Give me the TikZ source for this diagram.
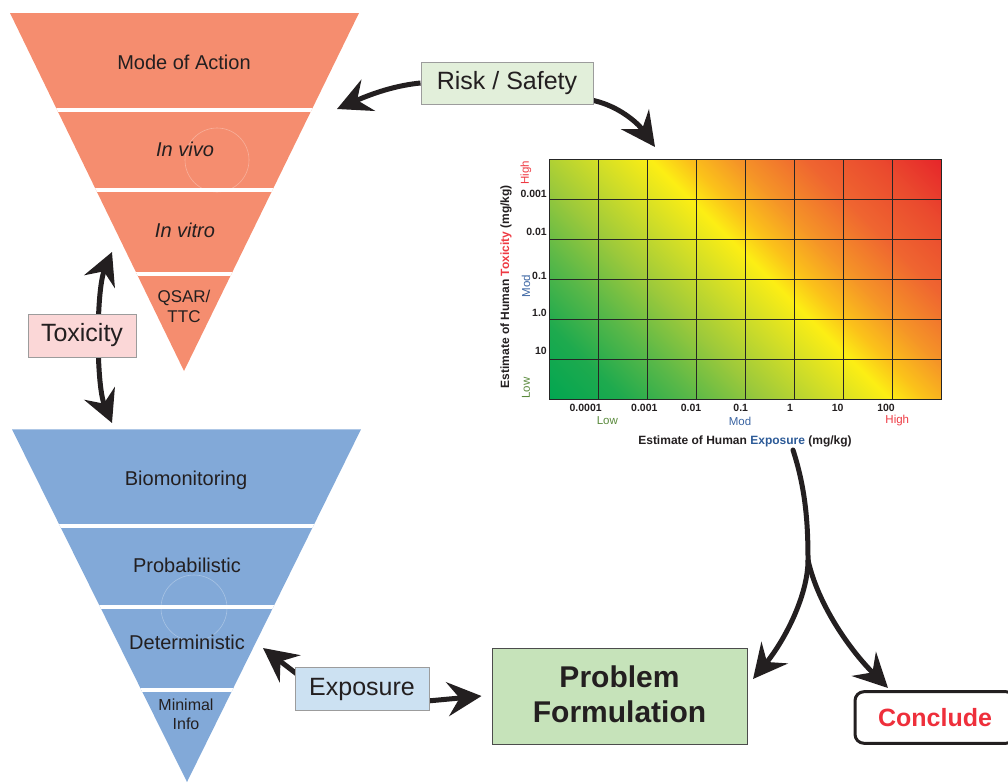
\documentclass[tikz,border=0pt]{standalone}
\usepackage{fontspec}
\setmainfont{Liberation Sans}
\usetikzlibrary{arrows.meta,calc}
\pgfdeclarelayer{bg}
\pgfsetlayers{bg,main}

\definecolor{triO}{HTML}{F58D6F}
\definecolor{triB}{HTML}{82A9D8}
\definecolor{ink}{HTML}{231F20}
\definecolor{riskfill}{HTML}{E2EFDA}
\definecolor{toxfill}{HTML}{FBD7D7}
\definecolor{expofill}{HTML}{CCE1F2}
\definecolor{probfill}{HTML}{C6E3BA}
\definecolor{tagedge}{HTML}{9C9C9C}
\definecolor{hmgreen}{HTML}{5A8A3C}
\definecolor{hmblue}{HTML}{3A64A2}
\definecolor{hmred}{HTML}{EE3A43}
\definecolor{expblue}{HTML}{2C5A97}
\definecolor{conred}{HTML}{EE2F3B}
\definecolor{hA}{HTML}{00A651}
\definecolor{hB}{HTML}{1EAA4E}
\definecolor{hC}{HTML}{5AB848}
\definecolor{hD}{HTML}{9CC93B}
\definecolor{hE}{HTML}{CDDC29}
\definecolor{hF}{HTML}{FCEE14}
\definecolor{hG}{HTML}{FBC21A}
\definecolor{hH}{HTML}{F59527}
\definecolor{hI}{HTML}{EF6530}
\definecolor{hJ}{HTML}{EA4A2E}
\definecolor{hK}{HTML}{E6232A}
\pgfdeclarehorizontalshading{heat}{100bp}{color(0bp)=(hA); color(25.5bp)=(hA); color(31bp)=(hB); color(36bp)=(hC); color(41bp)=(hD); color(45.5bp)=(hE); color(50bp)=(hF); color(52.5bp)=(hG); color(56bp)=(hH); color(61bp)=(hI); color(66bp)=(hJ); color(71bp)=(hK); color(100bp)=(hK)}

\begin{document}
\begin{tikzpicture}[x=1pt,y=-1pt,
  lbl/.style={text=ink, inner sep=0pt, font=\fontsize{20}{24}\selectfont},
  tagbox/.style={draw=tagedge, line width=1pt, text=ink, inner sep=0pt, font=\fontsize{25}{30}\selectfont},
  conn/.style={draw=ink, line width=5pt, -{Stealth[length=34pt,width=34pt,inset=12pt]}},
  twoway/.style={draw=ink, line width=5pt, {Stealth[length=32pt,width=33pt,inset=11pt]}-{Stealth[length=32pt,width=33pt,inset=11pt]}},
  gapline/.style={draw=white, line width=4pt},
  ghost/.style={draw=white, opacity=0.3, line width=0.6pt},
  hmgrid/.style={draw=black!85, line width=1pt},
  ticklbl/.style={text=ink, inner sep=0pt, font=\bfseries\fontsize{10.5}{12}\selectfont},
  risklbl/.style={inner sep=0pt, font=\fontsize{11.5}{13}\selectfont},
  axtitle/.style={text=ink, inner sep=0pt, font=\bfseries\fontsize{12}{14}\selectfont},
]
\useasboundingbox (0,0) rectangle (1008,782);

\begin{pgfonlayer}{bg}
% toxicity pyramid
\fill[triO] (10,13) -- (359,13) -- (184,371) -- cycle;
\begin{scope}
  \clip (10,13) -- (359,13) -- (184,371) -- cycle;
  \draw[ghost] (217,160) circle[radius=32pt];
  \foreach \yy in {109.7,189.7,273.7} \draw[gapline] (0,\yy) -- (380,\yy);
\end{scope}
% exposure pyramid
\fill[triB] (12,429.3) -- (361,429.3) -- (187,782) -- cycle;
\begin{scope}
  \clip (12,429.3) -- (361,429.3) -- (187,782) -- cycle;
  \draw[ghost] (194,608) circle[radius=33pt];
  \foreach \yy in {525.7,606.7,689.7} \draw[gapline] (0,\yy) -- (380,\yy);
\end{scope}
% heat map
\begin{scope}
  \clip (549.3,159) rectangle (941.7,399.3);
  \shade[shading=heat, shading angle=45] (520,29) rectangle (1020,529);
\end{scope}
\foreach \i in {1,...,7} \draw[hmgrid] ({549.3+\i*49.05},159) -- ({549.3+\i*49.05},399.3);
\foreach \j in {1,...,5} \draw[hmgrid] (549.3,{159+\j*40.05}) -- (941.7,{159+\j*40.05});
\draw[hmgrid] (549.3,159) rectangle (941.7,399.3);
\end{pgfonlayer}

% pyramid labels
\node[lbl] (moa) at (184,62) {Mode of Action};
\node[lbl, font=\itshape\fontsize{20}{24}\selectfont] (vivo) at (185,149) {In vivo};
\node[lbl, font=\itshape\fontsize{20}{24}\selectfont] (vitro) at (185,230) {In vitro};
\node[lbl, align=center, font=\fontsize{17}{20}\selectfont] (qsar) at (184,306.7) {QSAR/\\TTC};
\node[lbl] (bio) at (186,480) {Biomonitoring};
\node[lbl] (probab) at (187,565) {Probabilistic};
\node[lbl] (determ) at (187,642.5) {Deterministic};
\node[lbl, align=center, font=\fontsize{16}{19}\selectfont] (minimal) at (186,714.5) {Minimal\\Info};

% tags and boxes
\node[tagbox, fill=riskfill, minimum width=172pt, minimum height=42pt] (risk) at (507,83) {Risk / Safety};
\node[tagbox, fill=toxfill, minimum width=108pt, minimum height=43pt] (tox) at (82,335.5) {Toxicity};
\node[tagbox, fill=expofill, minimum width=134pt, minimum height=43pt] (expo) at (362,689) {Exposure};
\node[draw=black!70, fill=probfill, line width=1pt, minimum width=255pt, minimum height=96pt, align=center, inner sep=0pt, text=ink, font=\bfseries\fontsize{30}{35}\selectfont] (prob) at (619.5,696) {\raisebox{3pt}{Problem}\\\raisebox{3pt}{Formulation}};
\node[draw=ink, line width=3pt, rounded corners=9pt, minimum width=160pt, minimum height=51.6pt, text=conred, font=\bfseries\fontsize{25}{30}\selectfont, inner sep=0pt] (concl) at (935,717.5) {Conclude};

% heat map labels
\node[ticklbl, anchor=east] (ty1) at (547,194.3) {0.001};
\node[ticklbl, anchor=east] (ty2) at (547,231.8) {0.01};
\node[ticklbl, anchor=east] (ty3) at (547,275.7) {0.1};
\node[ticklbl, anchor=east] (ty4) at (547,313.3) {1.0};
\node[ticklbl, anchor=east] (ty5) at (547,351) {10};
\node[ticklbl] (tx1) at (585.7,407.7) {0.0001};
\node[ticklbl] (tx2) at (644.3,407.7) {0.001};
\node[ticklbl] (tx3) at (691,407.7) {0.01};
\node[ticklbl] (tx4) at (740.7,407.7) {0.1};
\node[ticklbl] (tx5) at (790,407.7) {1};
\node[ticklbl] (tx6) at (837.7,407.7) {10};
\node[ticklbl] (tx7) at (886,407.7) {100};
\node[risklbl, text=hmgreen] (xlow) at (607.3,421) {Low};
\node[risklbl, text=hmblue] (xmod) at (740,421) {Mod};
\node[risklbl, text=hmred] (xhigh) at (897.3,421) {High};
\node[risklbl, text=hmred, rotate=90] (yhigh) at (526,173) {High};
\node[risklbl, text=hmblue, rotate=90] (ymod) at (526,286) {Mod};
\node[risklbl, text=hmgreen, rotate=90] (ylow) at (526,388) {Low};
\node[axtitle] (xtitle) at (745,441) {Estimate of Human \textcolor{expblue}{Exposure} (mg/kg)};
\node[axtitle, rotate=90] (ytitle) at (506,286.7) {Estimate of Human \textcolor{hmred}{Toxicity} (mg/kg)};

% connector ends
\coordinate (tipL) at (337,109);
\coordinate (tipH) at (655,147);
\coordinate (toxtop) at (112,252);
\coordinate (toxbot) at (112,423);
\coordinate (detTip) at (263,648);
\coordinate (hmOut) at (793,450);
\coordinate (fork) at (808,560);
\coordinate (probTip) at (753,679);
\coordinate (conTip) at (888,688);

\begin{pgfonlayer}{bg}
\draw[conn] (risk.west) .. controls (400,85) and (378,91) .. (tipL);
\draw[conn] ($(risk.south east)+(0,-4)$) .. controls (618,106) and (637,122) .. (tipH);
\draw[twoway] (toxbot) .. controls (96,385) and (96,290) .. (toxtop);
\draw[conn] ($(expo.north west)+(5,9)$) -- (detTip);
\draw[conn] ($(expo.east)+(-2,12)$) -- ($(prob.west)+(-10,0)$);
\draw[draw=ink, line width=5pt, line cap=round] (hmOut) .. controls (806,490) and (808,525) .. (fork);
\draw[conn] (fork) .. controls (808,595) and (785,640) .. (probTip);
\draw[conn] (fork) .. controls (818,605) and (850,650) .. (conTip);
\end{pgfonlayer}
\end{tikzpicture}
\end{document}
